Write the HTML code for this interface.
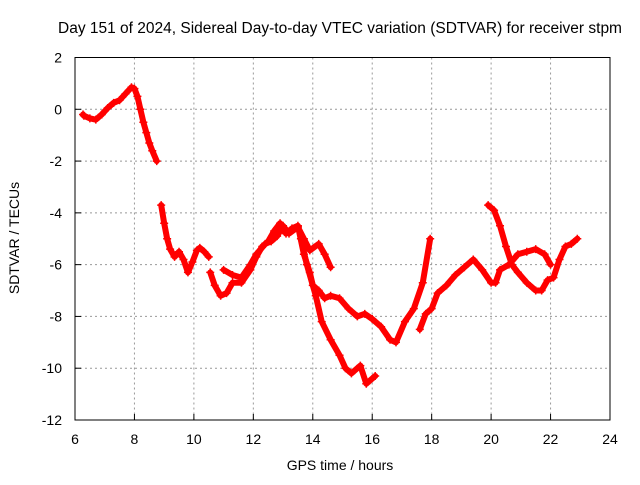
<!DOCTYPE html>
<html><head><meta charset="utf-8"><style>
body{margin:0;background:#fff;}
svg text{font-family:"Liberation Sans",sans-serif;font-size:14px;fill:#000;}
</style></head><body>
<svg id="chart" width="640" height="480" xmlns="http://www.w3.org/2000/svg">
<g id="grid"></g>
<g id="series"></g>
<rect x="75" y="57.5" width="535" height="362.5" fill="none" stroke="#000" stroke-width="1"/>
<g id="ticks"></g>
<text x="340" y="33" text-anchor="middle" style="font-size:15.5px">Day 151 of 2024, Sidereal Day-to-day VTEC variation (SDTVAR) for receiver stpm</text>
<text x="340" y="470" text-anchor="middle">GPS time / hours</text>
<text transform="translate(19,238) rotate(-90)" text-anchor="middle">SDTVAR / TECUs</text>
</svg>
<script>
const xTicks=[6,8,10,12,14,16,18,20,22,24];
const yTicks=[2,0,-2,-4,-6,-8,-10,-12];
const segA_h=[6.27,6.3,6.5,6.7,6.9,7.1,7.3,7.5,7.7,7.9,8.0,8.1,8.2,8.3,8.4,8.5,8.6,8.75];
const segA_v=[-0.2,-0.25,-0.35,-0.4,-0.2,0.05,0.25,0.35,0.6,0.85,0.8,0.5,0.0,-0.5,-0.9,-1.3,-1.6,-2.0];
const segB_h=[8.9,9.0,9.1,9.2,9.35,9.5,9.65,9.8,9.95,10.1,10.2,10.35,10.5];
const segB_v=[-3.7,-4.4,-5.0,-5.4,-5.7,-5.5,-5.8,-6.3,-5.9,-5.45,-5.35,-5.5,-5.7];
const segC_h=[10.55,10.7,10.9,11.1,11.3,11.6,11.9,12.1,12.3,12.5,12.7,12.9,13.1,13.3,13.5,13.7,13.9,14.0,14.2,14.4,14.6,14.9,15.2,15.5,15.75,16.0,16.3,16.6,16.8,17.1,17.4,17.7,17.95];
const segC_v=[-6.3,-6.8,-7.2,-7.1,-6.7,-6.7,-6.2,-5.7,-5.3,-5.1,-4.7,-4.4,-4.8,-4.6,-4.5,-5.6,-6.3,-6.8,-7.0,-7.3,-7.2,-7.3,-7.7,-8.0,-7.9,-8.1,-8.4,-8.9,-9.0,-8.2,-7.7,-6.7,-5.0];
const segD_h=[11.0,11.3,11.6,11.9,12.1,12.4,12.6,12.8,13.0,13.2,13.5,13.7,13.9,14.2,14.4,14.6];
const segD_v=[-6.2,-6.4,-6.5,-6.0,-5.6,-5.2,-5.1,-4.9,-4.5,-4.8,-4.55,-5.0,-5.45,-5.2,-5.6,-6.1];
const segE_h=[13.6,13.8,14.1,14.3,14.6,14.9,15.1,15.3,15.6,15.8,16.1];
const segE_v=[-5.0,-6.0,-7.2,-8.2,-8.9,-9.5,-10.0,-10.2,-9.9,-10.6,-10.3];
const segF_h=[17.6,17.8,18.0,18.2,18.5,18.8,19.1,19.4,19.7,20.0,20.15,20.3,20.6,20.9,21.2,21.5,21.8,22.0];
const segF_v=[-8.5,-7.9,-7.7,-7.1,-6.8,-6.4,-6.1,-5.8,-6.2,-6.7,-6.7,-6.2,-6.0,-5.6,-5.5,-5.4,-5.6,-6.0];
const segG_h=[19.9,20.1,20.3,20.5,20.7,20.9,21.2,21.5,21.7,21.9,22.1,22.3,22.5,22.7,22.9];
const segG_v=[-3.7,-3.9,-4.5,-5.3,-6.0,-6.3,-6.7,-7.0,-7.0,-6.6,-6.5,-5.8,-5.3,-5.2,-5.0];
const segments=[[segA_h,segA_v],[segB_h,segB_v],[segC_h,segC_v],[segD_h,segD_v],[segE_h,segE_v],[segF_h,segF_v],[segG_h,segG_v]];

const X0=75,X1=610,Y0=57.5,Y1=420;
function sx(h){return X0+(h-6)/(24-6)*(X1-X0);}
function sy(v){return Y0+(2-v)/(2-(-12))*(Y1-Y0);}
const NS="http://www.w3.org/2000/svg";
const grid=document.getElementById('grid'),ticks=document.getElementById('ticks'),series=document.getElementById('series');
function mk(tag,attrs,parent){const e=document.createElementNS(NS,tag);for(const k in attrs)e.setAttribute(k,attrs[k]);parent.appendChild(e);return e;}
xTicks.forEach(t=>{
  const x=sx(t);
  if(t>6&&t<24){const g=mk('line',{x1:x,x2:x,y1:Y0,y2:Y1,stroke:'#999','stroke-dasharray':'2,3'},grid);
  
  }
  const l=mk('line',{x1:x,x2:x,y1:Y1,y2:Y1-6,stroke:'#000'},ticks);
  
  
  const tx=mk('text',{x:x,y:Y1+24,'text-anchor':'middle'},ticks);tx.textContent=t;
  
  
});
yTicks.forEach(t=>{
  const y=sy(t);
  if(t<2&&t>-12){const g=mk('line',{x1:X0,x2:X1,y1:y,y2:y,stroke:'#999','stroke-dasharray':'2,3'},grid);
  
  }
  const l=mk('line',{x1:X0,x2:X0+6,y1:y,y2:y,stroke:'#000'},ticks);
  
  
  const tx=mk('text',{x:X0-13,y:y+5,'text-anchor':'end'},ticks);tx.textContent=t;
  
  
});
segments.forEach(([hs,vs])=>{
  const pts=hs.map((h,i)=>sx(h)+','+sy(vs[i])).join(' ');
  const p=mk('polyline',{points:pts,fill:'none',stroke:'#f00','stroke-width':6,'stroke-linejoin':'round','stroke-linecap':'round'},series);
  
  
  hs.forEach((h,i)=>{
    const x=sx(h),y=sy(vs[i]);
    const m=mk('path',{d:`M${x-4},${y}H${x+4}M${x},${y-4}V${y+4}`,stroke:'#f00','stroke-width':1.5},series);
    
    
  });
});
</script>
</body></html>
